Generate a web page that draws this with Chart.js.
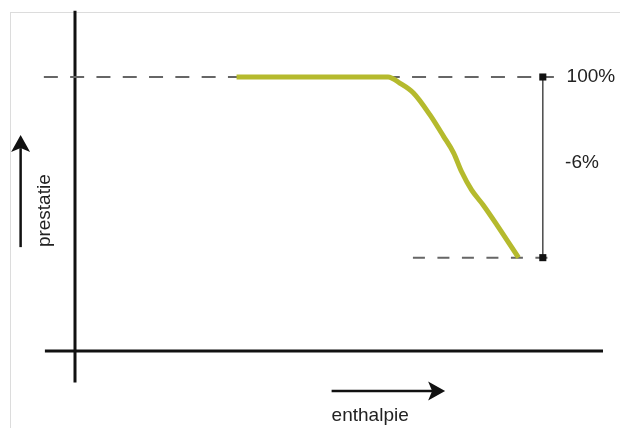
<!DOCTYPE html>
<html>
<head>
<meta charset="utf-8">
<script src="https://cdn.jsdelivr.net/npm/chart.js@4/dist/chart.umd.min.js"></script>
<style>
  html, body { margin: 0; padding: 0; background: #ffffff; }
  #wrap { position: absolute; left: 0; top: 0; width: 620px; height: 428px; }
</style>
</head>
<body>
<div id="wrap"><canvas id="c" width="620" height="428"></canvas></div>
<script>
// ---- data (schematic units: x = enthalpie, y = prestatie in %) ----
const curveX = [30.6, 59.3, 61.5, 64.1, 67.2, 69.8, 71.7, 73.2, 75.1, 77.3, 79.9, 84.0];
const curveY = [100, 100, 99.8, 99.47, 98.75, 98.03, 97.48, 96.86, 96.25, 95.75, 95.09, 94.0];

const levelTop = 100;          // 100 %
const levelBottom = 94;        // -6 %
const xAxisLevel = 90.9;       // where the horizontal axis sits
const yAxisPos = 0;            // where the vertical axis sits

const xAxisSpan = [-5.7, 100];
const yAxisSpan = [89.85, 102.2];
const topDashSpan = [-5.9, 90.7];
const lowDashSpan = [64.0, 91.3];
const dimX = 88.6;

const yArrowX = -10.3;
const yArrowSpan = [94.35, 98.07];
const xArrowY = 89.57;
const xArrowSpan = [48.6, 70.1];

const labelTop = '100%';
const labelDiff = '-6%';
const labelX = 93.1;
const labelDiffY = 97.15;
const yTitle = 'prestatie';
const xTitle = 'enthalpie';

// ---- build datasets ----
const pts = (xs, ys) => xs.map((x, i) => ({ x: x, y: ys[i] }));
const FONT = '19px "Liberation Sans", Arial, Helvetica, sans-serif';

const datasets = [
  {
    label: 'curve',
    data: pts(curveX, curveY),
    borderColor: '#b5ba2d',
    borderWidth: 5,
    cubicInterpolationMode: 'monotone',
    borderCapStyle: 'butt',
    borderJoinStyle: 'round',
    pointRadius: 0,
    clip: false
  },
  {
    label: 'dimension',
    data: pts([dimX, dimX], [levelTop, levelBottom]),
    borderColor: '#4a4a4a',
    borderWidth: 1.5,
    pointStyle: 'rect',
    pointRadius: 5,
    pointBackgroundColor: '#111111',
    pointBorderWidth: 0,
    clip: false
  },
  {
    label: 'topDash',
    data: pts(topDashSpan, [levelTop, levelTop]),
    borderColor: '#666666',
    borderWidth: 2,
    borderDash: [14, 12.3],
    borderCapStyle: 'butt',
    pointRadius: 0,
    clip: false
  },
  {
    label: 'lowDash',
    data: pts(lowDashSpan, [levelBottom, levelBottom]),
    borderColor: '#666666',
    borderWidth: 2,
    borderDash: [12, 12.5],
    borderCapStyle: 'butt',
    pointRadius: 0,
    clip: false
  },
  {
    label: 'yAxis',
    data: pts([yAxisPos, yAxisPos], yAxisSpan),
    borderColor: '#111111',
    borderWidth: 3,
    borderCapStyle: 'butt',
    pointRadius: 0,
    clip: false
  },
  {
    label: 'xAxis',
    data: pts(xAxisSpan, [xAxisLevel, xAxisLevel]),
    borderColor: '#111111',
    borderWidth: 3,
    borderCapStyle: 'butt',
    pointRadius: 0,
    clip: false
  }
];

// ---- plugin: frame, arrows and texts placed through the scales ----
function arrow(ctx, x0, y0, x1, y1) {
  const ang = Math.atan2(y1 - y0, x1 - x0);
  const headLen = 17, halfW = 9.5, notch = 4;
  ctx.save();
  ctx.strokeStyle = '#111';
  ctx.fillStyle = '#111';
  ctx.lineWidth = 2.5;
  ctx.beginPath();
  ctx.moveTo(x0, y0);
  ctx.lineTo(x1 - Math.cos(ang) * (headLen - notch), y1 - Math.sin(ang) * (headLen - notch));
  ctx.stroke();
  ctx.translate(x1, y1);
  ctx.rotate(ang);
  ctx.beginPath();
  ctx.moveTo(0, 0);
  ctx.lineTo(-headLen, -halfW);
  ctx.lineTo(-headLen + notch, 0);
  ctx.lineTo(-headLen, halfW);
  ctx.closePath();
  ctx.fill();
  ctx.restore();
}

const decor = {
  id: 'decor',
  beforeDraw(chart) {
    const ctx = chart.ctx;
    ctx.save();
    ctx.fillStyle = '#ffffff';
    ctx.fillRect(0, 0, chart.width, chart.height);
    ctx.strokeStyle = '#dcdcdc';
    ctx.lineWidth = 1;
    ctx.strokeRect(10.5, 12.5, chart.width + 20, chart.height + 20);
    ctx.restore();
  },
  afterDatasetsDraw(chart) {
    const ctx = chart.ctx;
    const xs = chart.scales.x, ys = chart.scales.y;
    // arrows
    arrow(ctx, xs.getPixelForValue(yArrowX), ys.getPixelForValue(yArrowSpan[0]),
               xs.getPixelForValue(yArrowX), ys.getPixelForValue(yArrowSpan[1]));
    arrow(ctx, xs.getPixelForValue(xArrowSpan[0]), ys.getPixelForValue(xArrowY),
               xs.getPixelForValue(xArrowSpan[1]), ys.getPixelForValue(xArrowY));
    // texts
    ctx.save();
    ctx.fillStyle = '#222222';
    ctx.font = FONT;
    ctx.textAlign = 'left';
    ctx.textBaseline = 'middle';
    ctx.fillText(labelTop, xs.getPixelForValue(labelX), ys.getPixelForValue(levelTop));
    ctx.fillText(labelDiff, xs.getPixelForValue(labelX) - 1.5, ys.getPixelForValue(labelDiffY));
    // x title under arrow
    ctx.textBaseline = 'alphabetic';
    ctx.fillText(xTitle, xs.getPixelForValue(xArrowSpan[0]), ys.getPixelForValue(xArrowY) + 30);
    // y title, rotated, beside arrow
    const ax = xs.getPixelForValue(yArrowX);
    const midY = (ys.getPixelForValue(yArrowSpan[0]) + ys.getPixelForValue(yArrowSpan[1])) / 2;
    ctx.translate(ax + 29, ys.getPixelForValue(yArrowSpan[0]));
    ctx.rotate(-Math.PI / 2);
    ctx.textAlign = 'left';
    ctx.fillText(yTitle, 0, 0);
    ctx.restore();
  }
};

new Chart(document.getElementById('c'), {
  type: 'line',
  data: { datasets: datasets },
  options: {
    responsive: false,
    animation: false,
    devicePixelRatio: 1,
    layout: { padding: { left: 75, right: 17, top: 77, bottom: 77 } },
    plugins: { legend: { display: false }, tooltip: { enabled: false } },
    events: [],
    scales: {
      x: { type: 'linear', min: 0, max: 100, display: false },
      y: { type: 'linear', min: xAxisLevel, max: levelTop, display: false }
    }
  },
  plugins: [decor]
});
</script>
</body>
</html>
